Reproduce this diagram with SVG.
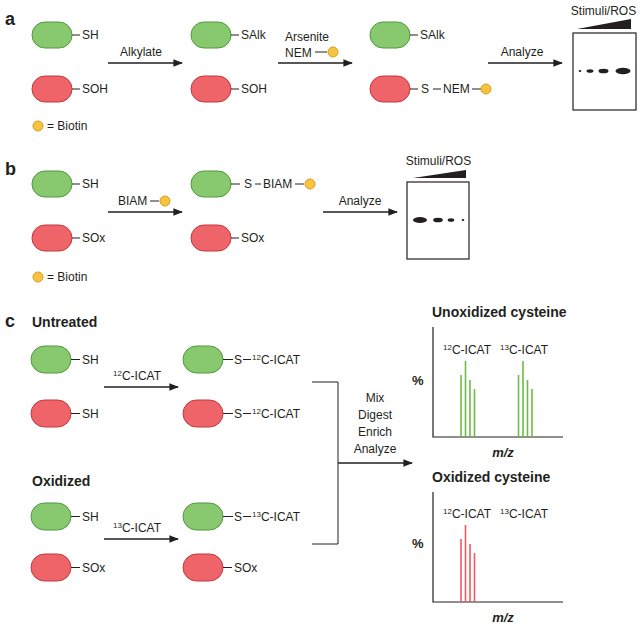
<svg xmlns="http://www.w3.org/2000/svg" width="643" height="628" viewBox="0 0 643 628">
<defs>
<style>
text{font-family:"Liberation Sans",Arial,sans-serif;font-size:12px;fill:#231f20}
.lab{font-size:18px;font-weight:bold}
.hd{font-size:14px;font-weight:bold}
.mz{font-size:13px;font-weight:bold;font-style:italic}
.pct{font-size:13px;font-weight:bold}
.sup{font-size:8px}
.g{fill:#88c96f;stroke:#4e9a3c;stroke-width:1}
.r{fill:#ef6468;stroke:#c4383f;stroke-width:1}
.bt{fill:#f6c441;stroke:#dc9d1a;stroke-width:1}
.ln{stroke:#231f20;stroke-width:1;fill:none}
.ar{stroke:#231f20;stroke-width:1.6;fill:none;marker-end:url(#ah)}
.ax{stroke:#231f20;stroke-width:1.2;fill:none}
.gb{stroke:#6dbb45;stroke-width:1.6}
.rb{stroke:#ee5a60;stroke-width:1.6}
.box{fill:#fff;stroke:#231f20;stroke-width:1.2}
</style>
<marker id="ah" viewBox="0 0 10 8" refX="9" refY="4" markerWidth="6" markerHeight="5" orient="auto" markerUnits="strokeWidth">
<path d="M0,0 L10,4 L0,8 z" fill="#231f20"/>
</marker>
</defs>

<!-- Panel labels -->
<text class="lab" x="5" y="25">a</text>
<text class="lab" x="5" y="175">b</text>
<text class="lab" x="5" y="327">c</text>

<!-- ===== Panel a ===== -->
<g id="a-green1"><rect class="g" x="32" y="22" width="40" height="26" rx="13"/><line class="ln" x1="72" y1="35" x2="80" y2="35"/><text x="82" y="39">SH</text></g>
<g id="a-red1"><rect class="r" x="32" y="76" width="40" height="26" rx="13"/><line class="ln" x1="72" y1="89" x2="80" y2="89"/><text x="82" y="93">SOH</text></g>
<g id="a-legend"><circle class="bt" cx="38" cy="126" r="5"/><text x="47" y="130">= Biotin</text></g>
<g id="a-green2"><rect class="g" x="191" y="22" width="40" height="26" rx="13"/><line class="ln" x1="231" y1="35" x2="239" y2="35"/><text x="241" y="39">SAlk</text></g>
<g id="a-red2"><rect class="r" x="191" y="76" width="40" height="26" rx="13"/><line class="ln" x1="231" y1="89" x2="239" y2="89"/><text x="241" y="93">SOH</text></g>
<g id="a-green3"><rect class="g" x="370" y="22" width="40" height="26" rx="13"/><line class="ln" x1="410" y1="35" x2="418" y2="35"/><text x="420" y="39">SAlk</text></g>
<g id="a-red3"><rect class="r" x="370" y="76" width="40" height="26" rx="13"/><line class="ln" x1="410" y1="89" x2="418" y2="89"/><text x="421" y="93">S</text><line class="ln" x1="433" y1="89" x2="441" y2="89"/><text x="443" y="93">NEM</text><line class="ln" x1="472" y1="89" x2="481" y2="89"/><circle class="bt" cx="486" cy="89" r="5"/></g>
<g id="a-blot">
<text x="603.5" y="15" text-anchor="middle">Stimuli/ROS</text>
<polygon points="577,29 631,29 631,19" fill="#231f20"/>
<rect class="box" x="573" y="33" width="63" height="77"/>
<ellipse cx="580" cy="71" rx="1.3" ry="1" fill="#231f20"/>
<ellipse cx="590" cy="71" rx="3.5" ry="1.8" fill="#231f20"/>
<ellipse cx="603.5" cy="71" rx="5" ry="2.3" fill="#231f20"/>
<ellipse cx="623" cy="71" rx="7.5" ry="3.2" fill="#231f20"/>
</g>

<!-- ===== Panel b ===== -->
<g id="b-green1"><rect class="g" x="32" y="171" width="40" height="26" rx="13"/><line class="ln" x1="72" y1="184" x2="80" y2="184"/><text x="82" y="188">SH</text></g>
<g id="b-red1"><rect class="r" x="32" y="225" width="40" height="26" rx="13"/><line class="ln" x1="72" y1="238" x2="80" y2="238"/><text x="82" y="242">SOx</text></g>
<g id="b-legend"><circle class="bt" cx="38" cy="277" r="5"/><text x="47" y="281">= Biotin</text></g>
<g id="b-green2"><rect class="g" x="191" y="171" width="40" height="26" rx="13"/><line class="ln" x1="231" y1="184" x2="240" y2="184"/><text x="244" y="188">S</text><line class="ln" x1="255" y1="184" x2="261" y2="184"/><text x="263" y="188">BIAM</text><line class="ln" x1="295" y1="184" x2="304" y2="184"/><circle class="bt" cx="310" cy="184" r="5"/></g>
<g id="b-red2"><rect class="r" x="191" y="225" width="40" height="26" rx="13"/><line class="ln" x1="231" y1="238" x2="239" y2="238"/><text x="241" y="242">SOx</text></g>
<g id="b-blot">
<text x="438.5" y="165" text-anchor="middle">Stimuli/ROS</text>
<polygon points="413,178 466,178 466,170" fill="#231f20"/>
<rect class="box" x="407" y="182" width="62" height="77"/>
<ellipse cx="420" cy="220" rx="7" ry="3" fill="#231f20"/>
<ellipse cx="438" cy="220" rx="4.8" ry="2.3" fill="#231f20"/>
<ellipse cx="451" cy="220" rx="3.3" ry="1.8" fill="#231f20"/>
<ellipse cx="463" cy="220" rx="1.3" ry="1" fill="#231f20"/>
</g>

<!-- ===== Panel c ===== -->
<text class="hd" x="32" y="327">Untreated</text>
<text class="hd" x="32" y="486">Oxidized</text>
<g id="c-u-green1"><rect class="g" x="31" y="346" width="40" height="27" rx="13.5"/><line class="ln" x1="71" y1="359.5" x2="80" y2="359.5"/><text x="82" y="364">SH</text></g>
<g id="c-u-red1"><rect class="r" x="31" y="400" width="40" height="27" rx="13.5"/><line class="ln" x1="71" y1="413.5" x2="80" y2="413.5"/><text x="82" y="418">SH</text></g>
<g id="c-u-green2"><rect class="g" x="183" y="346" width="40" height="27" rx="13.5"/><line class="ln" x1="223" y1="359.5" x2="233" y2="359.5"/><text x="234" y="364">S</text><line class="ln" x1="243" y1="359.5" x2="251" y2="359.5"/><text x="252" y="364"><tspan class="sup" dy="-4">12</tspan><tspan dy="4">C-ICAT</tspan></text></g>
<g id="c-u-red2"><rect class="r" x="183" y="400" width="40" height="27" rx="13.5"/><line class="ln" x1="223" y1="413.5" x2="233" y2="413.5"/><text x="234" y="418">S</text><line class="ln" x1="243" y1="413.5" x2="251" y2="413.5"/><text x="252" y="418"><tspan class="sup" dy="-4">12</tspan><tspan dy="4">C-ICAT</tspan></text></g>
<g id="c-o-green1"><rect class="g" x="31" y="503" width="40" height="27" rx="13.5"/><line class="ln" x1="71" y1="516.5" x2="80" y2="516.5"/><text x="82" y="521">SH</text></g>
<g id="c-o-red1"><rect class="r" x="31" y="554" width="40" height="27" rx="13.5"/><line class="ln" x1="71" y1="567.5" x2="80" y2="567.5"/><text x="82" y="572">SOx</text></g>
<g id="c-o-green2"><rect class="g" x="183" y="503" width="40" height="27" rx="13.5"/><line class="ln" x1="223" y1="516.5" x2="233" y2="516.5"/><text x="234" y="521">S</text><line class="ln" x1="243" y1="516.5" x2="251" y2="516.5"/><text x="252" y="521"><tspan class="sup" dy="-4">13</tspan><tspan dy="4">C-ICAT</tspan></text></g>
<g id="c-o-red2"><rect class="r" x="183" y="554" width="40" height="27" rx="13.5"/><line class="ln" x1="223" y1="567.5" x2="232" y2="567.5"/><text x="234" y="572">SOx</text></g>

<g id="c-chart-unox">
<text class="hd" x="432" y="317">Unoxidized cysteine</text>
<polyline class="ax" points="433,327 433,437 563,437"/>
<text class="pct" x="412" y="385">%</text>
<text x="443" y="354"><tspan class="sup" dy="-4">12</tspan><tspan dy="4">C-ICAT</tspan></text>
<text x="500" y="354"><tspan class="sup" dy="-4">13</tspan><tspan dy="4">C-ICAT</tspan></text>
<g class="gb"><line x1="461" y1="375" x2="461" y2="437"/><line x1="465.5" y1="361" x2="465.5" y2="437"/><line x1="470" y1="380" x2="470" y2="437"/><line x1="474.5" y1="389" x2="474.5" y2="437"/>
<line x1="518.5" y1="375" x2="518.5" y2="437"/><line x1="523" y1="361" x2="523" y2="437"/><line x1="527.5" y1="380" x2="527.5" y2="437"/><line x1="532" y1="389" x2="532" y2="437"/></g>
<text class="mz" x="503" y="457" text-anchor="middle">m/z</text>
</g>
<g id="c-chart-ox">
<text class="hd" x="432" y="482">Oxidized cysteine</text>
<polyline class="ax" points="433,492 433,602 563,602"/>
<text class="pct" x="412" y="548">%</text>
<text x="443" y="518"><tspan class="sup" dy="-4">12</tspan><tspan dy="4">C-ICAT</tspan></text>
<text x="500" y="518"><tspan class="sup" dy="-4">13</tspan><tspan dy="4">C-ICAT</tspan></text>
<g class="rb"><line x1="461" y1="539" x2="461" y2="602"/><line x1="465.5" y1="525" x2="465.5" y2="602"/><line x1="470" y1="544" x2="470" y2="602"/><line x1="474.5" y1="553" x2="474.5" y2="602"/></g>
<text class="mz" x="503" y="622" text-anchor="middle">m/z</text>
</g>

<!-- ===== Connectors ===== -->
<g id="connectors">
<line class="ar" x1="108" y1="63" x2="182" y2="63"/>
<text x="141" y="56" text-anchor="middle">Alkylate</text>
<line class="ar" x1="278" y1="63" x2="352" y2="63"/>
<text x="285" y="41">Arsenite</text>
<text x="285" y="57">NEM</text>
<line class="ln" x1="315" y1="52" x2="327" y2="52"/>
<circle class="bt" cx="333" cy="52" r="5"/>
<line class="ar" x1="488" y1="63" x2="562" y2="63"/>
<text x="522" y="56" text-anchor="middle">Analyze</text>

<line class="ar" x1="108" y1="212" x2="182" y2="212"/>
<text x="118" y="205">BIAM</text>
<line class="ln" x1="150" y1="201" x2="159" y2="201"/>
<circle class="bt" cx="165" cy="201" r="5"/>
<line class="ar" x1="323" y1="212" x2="397" y2="212"/>
<text x="360" y="205" text-anchor="middle">Analyze</text>

<line class="ar" x1="104" y1="387" x2="178" y2="387"/>
<text x="113" y="380"><tspan class="sup" dy="-4">12</tspan><tspan dy="4">C-ICAT</tspan></text>
<line class="ar" x1="104" y1="539" x2="178" y2="539"/>
<text x="113" y="532"><tspan class="sup" dy="-4">13</tspan><tspan dy="4">C-ICAT</tspan></text>

<polyline class="ln" points="312,382 338,382 338,544 312,544"/>
<line class="ar" x1="338" y1="463" x2="412" y2="463"/>
<text x="375" y="402" text-anchor="middle">Mix</text>
<text x="375" y="419" text-anchor="middle">Digest</text>
<text x="375" y="436" text-anchor="middle">Enrich</text>
<text x="375" y="453" text-anchor="middle">Analyze</text>
</g>
</svg>
